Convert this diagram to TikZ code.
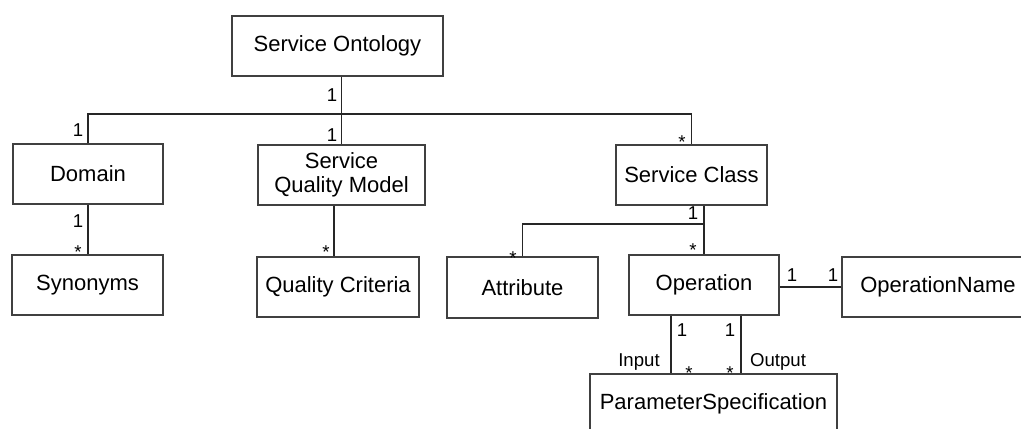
\documentclass[tikz,border=0pt]{standalone}
\usepackage{fontspec}
\setmainfont{Liberation Sans}

\begin{document}
\begin{tikzpicture}[x=0.5pt,y=-0.5pt,
	block/.style={rectangle, draw=black!75, line width=0.6pt, align=center, inner sep=0pt, font=\fontsize{11}{11.7}\selectfont},
	lbl/.style={anchor=base, inner sep=0pt, font=\fontsize{9.3}{11}\selectfont},
	conn/.style={draw=black!85, line width=0.6pt}]
	\useasboundingbox (0,0) rectangle (1021,428);
	% classes
	\node[block, minimum width=105.5pt, minimum height=30pt] (so) at (337.5,46) {Service Ontology};
	\node[block, minimum width=75pt, minimum height=30pt] (dom) at (88,174) {Domain};
	\node[block, minimum width=83.5pt, minimum height=30pt] (sqm) at (341.5,175) {Service\\Quality Model};
	\node[block, minimum width=75.5pt, minimum height=30pt] (sc) at (691.5,175) {Service Class};
	\node[block, minimum width=75.5pt, minimum height=30pt] (syn) at (87.5,285) {Synonyms};
	\node[block, minimum width=81pt, minimum height=30pt] (qc) at (338,287) {Quality Criteria};
	\node[block, minimum width=75.5pt, minimum height=30.5pt] (attr) at (522.5,287.5) {Attribute};
	\node[block, minimum width=75pt, minimum height=30pt] (op) at (704,285) {Operation};
	\node[block, minimum width=96pt, minimum height=30pt] (opn) at (938,287) {OperationName};
	\node[block, minimum width=123.5pt, minimum height=30pt] (ps) at (713.5,404) {ParameterSpecification};
	% associations
	\coordinate (bus) at (0,114);
	\coordinate (sub) at (0,224);
	\draw[conn] (sqm.north) -- (sqm.north |- so.south);
	\draw[conn] (dom.north) |- (bus -| sc.north) -- (sc.north);
	\draw[conn] (dom.south) -- (dom.south |- syn.north);
	\draw[conn] ([xshift=-3.75pt]sqm.south) -- ([xshift=-3.75pt]sqm.south |- qc.north);
	\draw[conn] (op.north) -- (op.north |- sc.south);
	\draw[conn] (attr.north) |- (sub -| op.north);
	\draw[conn] (opn.west) -- (opn.west -| op.east);
	\draw[conn] ([xshift=-16.5pt]op.south) -- ([xshift=-16.5pt]op.south |- ps.north);
	\draw[conn] ([xshift=18.5pt]op.south) -- ([xshift=18.5pt]op.south |- ps.north);
	% multiplicities
	\node[lbl] (m1) at (332,101) {1};
	\node[lbl] (m2) at (78,136) {1};
	\node[lbl] (m3) at (332,141) {1};
	\node[lbl] (m4) at (682,148) {*};
	\node[lbl] (m5) at (78,227) {1};
	\node[lbl] (m6) at (78,258) {*};
	\node[lbl] (m7) at (326,258) {*};
	\node[lbl] (m8) at (693,219) {1};
	\node[lbl] (m9) at (693,256) {*};
	\node[lbl] (m10) at (513,264) {*};
	\node[lbl] (m11) at (792,281) {1};
	\node[lbl] (m12) at (833,281) {1};
	\node[lbl] (m13) at (682,336) {1};
	\node[lbl] (m14) at (730,336) {1};
	\node[lbl] (m15) at (689,379) {*};
	\node[lbl] (m16) at (730,379) {*};
	\node[lbl] (in) at (639,366) {Input};
	\node[lbl] (out) at (778,366) {Output};
\end{tikzpicture}
\end{document}
